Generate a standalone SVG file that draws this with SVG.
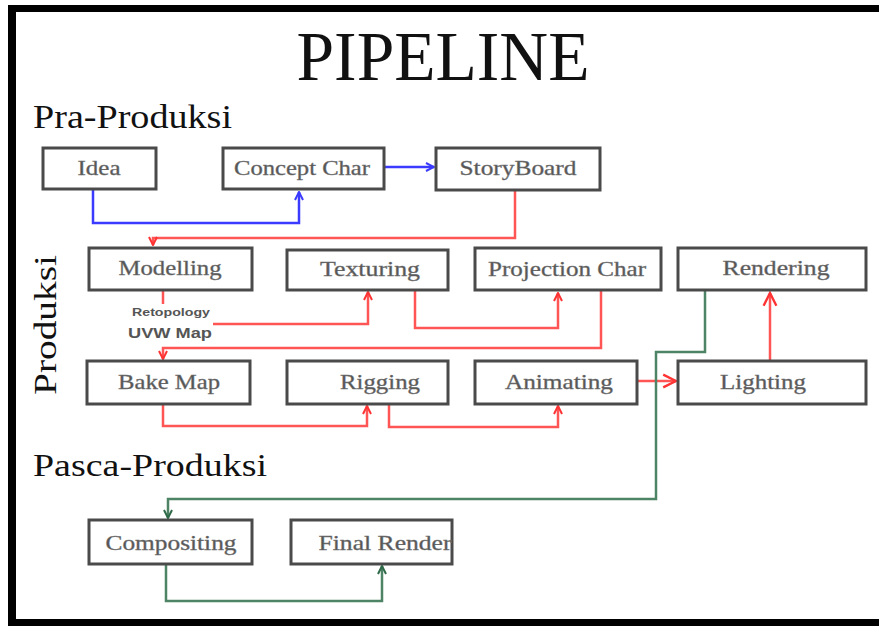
<svg xmlns="http://www.w3.org/2000/svg" width="879" height="626" viewBox="0 0 879 626">
<style>
.box{fill:#fff;stroke:#4a4a4a;stroke-width:3}
.lbl{font-family:"Liberation Serif","DejaVu Serif",serif;font-size:21px;fill:#555;stroke:#777;stroke-width:0.4;text-anchor:middle}
.head{font-family:"Liberation Serif","DejaVu Serif",serif;fill:#111}
.blue{fill:none;stroke:#3b3bff;stroke-width:2.5}
.red{fill:none;stroke:#ff5555;stroke-width:2.5}
.green{fill:none;stroke:#4e8466;stroke-width:2.5}
.small{font-family:"Liberation Sans","DejaVu Sans",sans-serif;font-weight:bold;fill:#555;text-anchor:middle}
</style>
<defs>
<marker id="ab" viewBox="0 0 10 10" refX="9" refY="5" markerWidth="10" markerHeight="10" markerUnits="userSpaceOnUse" orient="auto"><path d="M1,1 L9,5 L1,9" fill="none" stroke="#3b3bff" stroke-width="2"/></marker>
<marker id="ar" viewBox="0 0 10 10" refX="9" refY="5" markerWidth="10" markerHeight="10" markerUnits="userSpaceOnUse" orient="auto"><path d="M1,1 L9,5 L1,9" fill="none" stroke="#ff3333" stroke-width="2"/></marker>
<marker id="arw" viewBox="0 0 10 10" refX="9" refY="5" markerWidth="16" markerHeight="16" markerUnits="userSpaceOnUse" orient="auto"><path d="M1,1 L9,5 L1,9" fill="none" stroke="#ff3333" stroke-width="1.5"/></marker>
<marker id="ag" viewBox="0 0 10 10" refX="9" refY="5" markerWidth="10" markerHeight="12" markerUnits="userSpaceOnUse" orient="auto"><path d="M1,1 L9,5 L1,9" fill="none" stroke="#2f6a48" stroke-width="2"/></marker>
</defs>
<rect width="879" height="626" fill="#fff"/>
<g id="frame">
<rect x="8" y="5" width="871" height="7" fill="#000"/>
<rect x="8" y="5" width="8" height="621" fill="#000"/>
<rect x="8" y="619" width="871" height="7" fill="#000"/>
</g>
<g id="headings">
<text class="head" x="443" y="80" font-size="70" text-anchor="middle" textLength="293" lengthAdjust="spacingAndGlyphs">PIPELINE</text>
<text class="head" x="33" y="128" font-size="33" textLength="199" lengthAdjust="spacingAndGlyphs">Pra-Produksi</text>
<text class="head" x="33" y="476" font-size="32" textLength="234" lengthAdjust="spacingAndGlyphs">Pasca-Produksi</text>
<text class="head" transform="translate(56,325) rotate(-90)" font-size="32" text-anchor="middle" textLength="140" lengthAdjust="spacingAndGlyphs">Produksi</text>
</g>
<g id="connectors">
<polyline class="blue" points="93,190 93,223 299,223 299,192" marker-end="url(#ab)"/>
<polyline class="blue" points="385,167 434,167" marker-end="url(#ab)"/>
<polyline class="red" points="515,191 515,238 153,238 153,245" marker-end="url(#ar)"/>
<polyline class="red" points="163,291 163,304"/>
<polyline class="red" points="213,324 368,324 368,292" marker-end="url(#ar)"/>
<polyline class="red" points="415,291 415,328 558,328 558,293" marker-end="url(#ar)"/>
<polyline class="red" points="601,291 601,348 163,348 163,359" marker-end="url(#ar)"/>
<polyline class="red" points="163,404 163,426 367,426 367,406" marker-end="url(#ar)"/>
<polyline class="red" points="389,404 389,427 558,427 558,406" marker-end="url(#ar)"/>
<polyline class="red" points="637,381 676,381" marker-end="url(#arw)"/>
<polyline class="red" points="770,361 770,293" marker-end="url(#arw)"/>
<polyline class="green" points="705,291 705,352 656,352 656,499 168,499 168,518" marker-end="url(#ag)"/>
<polyline class="green" points="166,564 166,601 382,601 382,566" marker-end="url(#ag)"/>
<text class="small" x="171" y="316" font-size="10" textLength="78" lengthAdjust="spacingAndGlyphs">Retopology</text>
<text class="small" x="170" y="338" font-size="15" textLength="84" lengthAdjust="spacingAndGlyphs">UVW Map</text>
</g>
<g id="idea"><rect class="box" x="43" y="148" width="113" height="41"/><text class="lbl" x="99" y="175" textLength="43" lengthAdjust="spacingAndGlyphs">Idea</text></g>
<g id="concept-char"><rect class="box" x="223" y="148" width="161" height="41"/><text class="lbl" x="302" y="175" textLength="136" lengthAdjust="spacingAndGlyphs">Concept Char</text></g>
<g id="storyboard"><rect class="box" x="436" y="148" width="164" height="42"/><text class="lbl" x="518" y="175" textLength="117" lengthAdjust="spacingAndGlyphs">StoryBoard</text></g>
<g id="modelling"><rect class="box" x="89" y="248" width="163" height="42"/><text class="lbl" x="170" y="275" textLength="103" lengthAdjust="spacingAndGlyphs">Modelling</text></g>
<g id="texturing"><rect class="box" x="287" y="250" width="161" height="40"/><text class="lbl" x="370" y="276" textLength="100" lengthAdjust="spacingAndGlyphs">Texturing</text></g>
<g id="projection-char"><rect class="box" x="475" y="248" width="186" height="42"/><text class="lbl" x="567" y="276" textLength="158" lengthAdjust="spacingAndGlyphs">Projection Char</text></g>
<g id="rendering"><rect class="box" x="678" y="248" width="188" height="42"/><text class="lbl" x="776" y="275" textLength="107" lengthAdjust="spacingAndGlyphs">Rendering</text></g>
<g id="bake-map"><rect class="box" x="87" y="361" width="163" height="43"/><text class="lbl" x="169" y="389" textLength="102" lengthAdjust="spacingAndGlyphs">Bake Map</text></g>
<g id="rigging"><rect class="box" x="287" y="361" width="161" height="43"/><text class="lbl" x="380" y="389" textLength="80" lengthAdjust="spacingAndGlyphs">Rigging</text></g>
<g id="animating"><rect class="box" x="475" y="361" width="162" height="43"/><text class="lbl" x="559" y="389" textLength="108" lengthAdjust="spacingAndGlyphs">Animating</text></g>
<g id="lighting"><rect class="box" x="678" y="361" width="188" height="43"/><text class="lbl" x="763" y="389" textLength="86" lengthAdjust="spacingAndGlyphs">Lighting</text></g>
<g id="compositing"><rect class="box" x="89" y="520" width="163" height="44"/><text class="lbl" x="171" y="550" textLength="131" lengthAdjust="spacingAndGlyphs">Compositing</text></g>
<g id="final-render"><rect class="box" x="291" y="520" width="161" height="44"/><text class="lbl" x="385" y="550" textLength="133" lengthAdjust="spacingAndGlyphs">Final Render</text></g>
</svg>
